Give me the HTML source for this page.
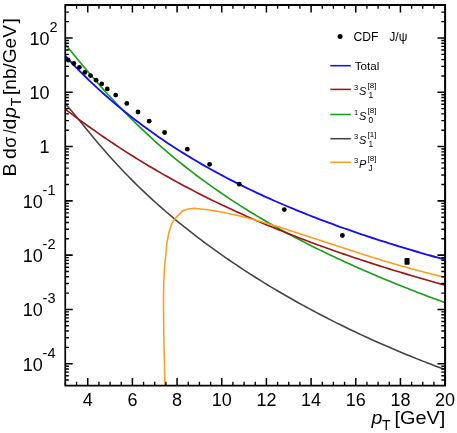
<!DOCTYPE html><html><head><meta charset="utf-8"><style>html,body{margin:0;padding:0;background:#fff}</style></head><body><svg width="457" height="433" viewBox="0 0 457 433" style="display:block;will-change:transform;font-family:'Liberation Sans',sans-serif">
<rect width="457" height="433" fill="#fff"/>
<defs><clipPath id="c"><rect x="65.3" y="5" width="379.7" height="380.2"/></clipPath></defs>
<g clip-path="url(#c)" fill="none" stroke-linejoin="round">
<path d="M65.30 103.79 L68.78 107.72 L72.27 111.81 L75.75 116.01 L79.23 120.26 L82.72 124.53 L86.20 128.80 L89.68 133.04 L93.17 137.24 L96.65 141.39 L100.13 145.49 L103.62 149.54 L107.10 153.51 L110.59 157.43 L114.07 161.28 L117.55 165.07 L121.04 168.79 L124.52 172.45 L128.00 176.05 L131.49 179.58 L134.97 183.06 L138.45 186.48 L141.94 189.85 L145.42 193.16 L148.90 196.42 L152.39 199.63 L155.87 202.78 L159.35 205.89 L162.84 208.96 L166.32 211.98 L169.80 214.95 L173.29 217.89 L176.77 220.78 L180.26 223.63 L183.74 226.45 L187.22 229.23 L190.71 231.97 L194.19 234.67 L197.67 237.34 L201.16 239.98 L204.64 242.59 L208.12 245.16 L211.61 247.70 L215.09 250.22 L218.57 252.70 L222.06 255.15 L225.54 257.58 L229.02 259.98 L232.51 262.35 L235.99 264.70 L239.47 267.02 L242.96 269.31 L246.44 271.58 L249.92 273.83 L253.41 276.05 L256.89 278.25 L260.38 280.42 L263.86 282.58 L267.34 284.71 L270.83 286.82 L274.31 288.90 L277.79 290.97 L281.28 293.01 L284.76 295.04 L288.24 297.04 L291.73 299.03 L295.21 300.99 L298.69 302.93 L302.18 304.86 L305.66 306.77 L309.14 308.65 L312.63 310.52 L316.11 312.37 L319.59 314.21 L323.08 316.02 L326.56 317.82 L330.04 319.60 L333.53 321.36 L337.01 323.11 L340.50 324.84 L343.98 326.55 L347.46 328.24 L350.95 329.92 L354.43 331.59 L357.91 333.23 L361.40 334.86 L364.88 336.48 L368.36 338.07 L371.85 339.66 L375.33 341.23 L378.81 342.78 L382.30 344.32 L385.78 345.84 L389.26 347.34 L392.75 348.84 L396.23 350.31 L399.71 351.78 L403.20 353.23 L406.68 354.66 L410.17 356.08 L413.65 357.49 L417.13 358.88 L420.62 360.25 L424.10 361.62 L427.58 362.97 L431.07 364.30 L434.55 365.63 L438.03 366.94 L441.52 368.23 L445.00 369.51" stroke="#454545" stroke-width="1.6"/>
<path d="M65.30 44.21 L68.78 48.50 L72.27 52.77 L75.75 57.01 L79.23 61.23 L82.72 65.42 L86.20 69.56 L89.68 73.67 L93.17 77.73 L96.65 81.74 L100.13 85.71 L103.62 89.62 L107.10 93.48 L110.59 97.29 L114.07 101.05 L117.55 104.75 L121.04 108.40 L124.52 111.99 L128.00 115.54 L131.49 119.03 L134.97 122.47 L138.45 125.85 L141.94 129.19 L145.42 132.47 L148.90 135.71 L152.39 138.89 L155.87 142.03 L159.35 145.12 L162.84 148.17 L166.32 151.17 L169.80 154.12 L173.29 157.03 L176.77 159.90 L180.26 162.73 L183.74 165.51 L187.22 168.26 L190.71 170.96 L194.19 173.63 L197.67 176.26 L201.16 178.85 L204.64 181.40 L208.12 183.93 L211.61 186.41 L215.09 188.86 L218.57 191.28 L222.06 193.67 L225.54 196.02 L229.02 198.35 L232.51 200.64 L235.99 202.91 L239.47 205.14 L242.96 207.35 L246.44 209.53 L249.92 211.68 L253.41 213.81 L256.89 215.91 L260.38 217.98 L263.86 220.03 L267.34 222.06 L270.83 224.06 L274.31 226.04 L277.79 228.00 L281.28 229.93 L284.76 231.84 L288.24 233.73 L291.73 235.60 L295.21 237.45 L298.69 239.28 L302.18 241.10 L305.66 242.89 L309.14 244.66 L312.63 246.41 L316.11 248.15 L319.59 249.87 L323.08 251.57 L326.56 253.26 L330.04 254.93 L333.53 256.58 L337.01 258.22 L340.50 259.84 L343.98 261.44 L347.46 263.04 L350.95 264.61 L354.43 266.18 L357.91 267.72 L361.40 269.26 L364.88 270.78 L368.36 272.29 L371.85 273.79 L375.33 275.27 L378.81 276.74 L382.30 278.20 L385.78 279.64 L389.26 281.08 L392.75 282.50 L396.23 283.92 L399.71 285.32 L403.20 286.71 L406.68 288.09 L410.17 289.46 L413.65 290.82 L417.13 292.17 L420.62 293.51 L424.10 294.84 L427.58 296.16 L431.07 297.47 L434.55 298.77 L438.03 300.07 L441.52 301.35 L445.00 302.63" stroke="#1a9e1a" stroke-width="1.65"/>
<path d="M65.30 109.12 L68.78 111.81 L72.27 114.46 L75.75 117.07 L79.23 119.65 L82.72 122.20 L86.20 124.73 L89.68 127.23 L93.17 129.70 L96.65 132.15 L100.13 134.57 L103.62 136.97 L107.10 139.34 L110.59 141.69 L114.07 144.02 L117.55 146.32 L121.04 148.60 L124.52 150.85 L128.00 153.08 L131.49 155.29 L134.97 157.47 L138.45 159.63 L141.94 161.77 L145.42 163.88 L148.90 165.97 L152.39 168.04 L155.87 170.08 L159.35 172.10 L162.84 174.10 L166.32 176.08 L169.80 178.03 L173.29 179.97 L176.77 181.88 L180.26 183.78 L183.74 185.65 L187.22 187.50 L190.71 189.33 L194.19 191.14 L197.67 192.94 L201.16 194.71 L204.64 196.47 L208.12 198.20 L211.61 199.92 L215.09 201.62 L218.57 203.30 L222.06 204.97 L225.54 206.62 L229.02 208.25 L232.51 209.86 L235.99 211.46 L239.47 213.04 L242.96 214.61 L246.44 216.16 L249.92 217.69 L253.41 219.21 L256.89 220.72 L260.38 222.21 L263.86 223.69 L267.34 225.15 L270.83 226.59 L274.31 228.03 L277.79 229.45 L281.28 230.86 L284.76 232.25 L288.24 233.63 L291.73 235.00 L295.21 236.35 L298.69 237.70 L302.18 239.03 L305.66 240.35 L309.14 241.66 L312.63 242.95 L316.11 244.24 L319.59 245.51 L323.08 246.77 L326.56 248.02 L330.04 249.26 L333.53 250.49 L337.01 251.71 L340.50 252.92 L343.98 254.12 L347.46 255.31 L350.95 256.49 L354.43 257.66 L357.91 258.82 L361.40 259.97 L364.88 261.11 L368.36 262.25 L371.85 263.37 L375.33 264.48 L378.81 265.59 L382.30 266.69 L385.78 267.78 L389.26 268.86 L392.75 269.93 L396.23 270.99 L399.71 272.05 L403.20 273.10 L406.68 274.14 L410.17 275.17 L413.65 276.20 L417.13 277.22 L420.62 278.23 L424.10 279.23 L427.58 280.23 L431.07 281.21 L434.55 282.20 L438.03 283.17 L441.52 284.14 L445.00 285.10" stroke="#a01414" stroke-width="1.65"/>
<path d="M164.90 386.00 L164.50 365.00 L163.90 340.00 L163.60 320.00 L163.50 300.00 L163.80 282.00 L164.40 270.00 L164.90 263.00 L165.80 255.00 L166.80 243.50 L168.90 232.40 L171.60 224.10 L175.10 218.60 L179.20 214.40 L182.70 210.80 L186.90 209.20 L192.40 208.60 L194.00 208.35 L196.30 208.54 L198.61 208.75 L200.91 208.99 L203.21 209.25 L205.51 209.53 L207.82 209.84 L210.12 210.16 L212.42 210.51 L214.72 210.88 L217.03 211.27 L219.33 211.67 L221.63 212.10 L223.94 212.54 L226.24 213.00 L228.54 213.47 L230.84 213.96 L233.15 214.47 L235.45 214.99 L237.75 215.53 L240.06 216.08 L242.36 216.64 L244.66 217.22 L246.96 217.81 L249.27 218.41 L251.57 219.02 L253.87 219.64 L256.17 220.27 L258.48 220.92 L260.78 221.57 L263.08 222.23 L265.39 222.90 L267.69 223.57 L269.99 224.26 L272.29 224.95 L274.60 225.65 L276.90 226.35 L279.20 227.06 L281.50 227.78 L283.81 228.50 L286.11 229.23 L288.41 229.96 L290.72 230.69 L293.02 231.43 L295.32 232.17 L297.62 232.92 L299.93 233.67 L302.23 234.42 L304.53 235.17 L306.83 235.93 L309.14 236.69 L311.44 237.45 L313.74 238.21 L316.05 238.97 L318.35 239.73 L320.65 240.49 L322.95 241.25 L325.26 242.02 L327.56 242.78 L329.86 243.54 L332.17 244.30 L334.47 245.06 L336.77 245.82 L339.07 246.58 L341.38 247.33 L343.68 248.08 L345.98 248.84 L348.28 249.59 L350.59 250.33 L352.89 251.08 L355.19 251.82 L357.50 252.56 L359.80 253.30 L362.10 254.03 L364.40 254.76 L366.71 255.49 L369.01 256.21 L371.31 256.93 L373.61 257.64 L375.92 258.36 L378.22 259.06 L380.52 259.77 L382.83 260.47 L385.13 261.16 L387.43 261.85 L389.73 262.53 L392.04 263.21 L394.34 263.89 L396.64 264.56 L398.94 265.22 L401.25 265.88 L403.55 266.54 L405.85 267.19 L408.16 267.83 L410.46 268.47 L412.76 269.10 L415.06 269.72 L417.37 270.34 L419.67 270.96 L421.97 271.57 L424.28 272.17 L426.58 272.76 L428.88 273.35 L431.18 273.94 L433.49 274.52 L435.79 275.09 L438.09 275.65 L440.39 276.21 L442.70 276.76 L445.00 277.30" stroke="#ff9d1e" stroke-width="1.55"/>
<path d="M65.30 56.00 L68.78 59.78 L72.27 63.48 L75.75 67.09 L79.23 70.64 L82.72 74.12 L86.20 77.53 L89.68 80.89 L93.17 84.18 L96.65 87.42 L100.13 90.60 L103.62 93.73 L107.10 96.81 L110.59 99.84 L114.07 102.82 L117.55 105.74 L121.04 108.62 L124.52 111.46 L128.00 114.25 L131.49 116.99 L134.97 119.69 L138.45 122.35 L141.94 124.96 L145.42 127.54 L148.90 130.07 L152.39 132.57 L155.87 135.02 L159.35 137.44 L162.84 139.83 L166.32 142.17 L169.80 144.49 L173.29 146.76 L176.77 149.01 L180.26 151.22 L183.74 153.40 L187.22 155.54 L190.71 157.66 L194.19 159.75 L197.67 161.80 L201.16 163.83 L204.64 165.83 L208.12 167.80 L211.61 169.75 L215.09 171.67 L218.57 173.56 L222.06 175.43 L225.54 177.27 L229.02 179.09 L232.51 180.88 L235.99 182.66 L239.47 184.40 L242.96 186.13 L246.44 187.84 L249.92 189.52 L253.41 191.18 L256.89 192.82 L260.38 194.44 L263.86 196.05 L267.34 197.63 L270.83 199.19 L274.31 200.74 L277.79 202.26 L281.28 203.77 L284.76 205.26 L288.24 206.74 L291.73 208.20 L295.21 209.64 L298.69 211.06 L302.18 212.47 L305.66 213.87 L309.14 215.24 L312.63 216.61 L316.11 217.96 L319.59 219.29 L323.08 220.61 L326.56 221.92 L330.04 223.21 L333.53 224.49 L337.01 225.76 L340.50 227.01 L343.98 228.25 L347.46 229.48 L350.95 230.70 L354.43 231.90 L357.91 233.09 L361.40 234.28 L364.88 235.45 L368.36 236.60 L371.85 237.75 L375.33 238.89 L378.81 240.02 L382.30 241.13 L385.78 242.24 L389.26 243.33 L392.75 244.42 L396.23 245.50 L399.71 246.56 L403.20 247.62 L406.68 248.67 L410.17 249.71 L413.65 250.74 L417.13 251.76 L420.62 252.78 L424.10 253.78 L427.58 254.78 L431.07 255.76 L434.55 256.75 L438.03 257.72 L441.52 258.68 L445.00 259.64" stroke="#1212f5" stroke-width="1.85"/>
</g>
<g fill="#000">
<circle cx="68.2" cy="60.0" r="2.4"/>
<circle cx="73.8" cy="63.5" r="2.4"/>
<circle cx="79.4" cy="67.3" r="2.4"/>
<circle cx="84.9" cy="72.4" r="2.4"/>
<circle cx="90.5" cy="75.6" r="2.4"/>
<circle cx="96.1" cy="80.2" r="2.4"/>
<circle cx="101.7" cy="83.9" r="2.4"/>
<circle cx="107.3" cy="88.9" r="2.4"/>
<circle cx="115.7" cy="95.1" r="2.4"/>
<circle cx="126.8" cy="103.4" r="2.4"/>
<circle cx="138.0" cy="112.0" r="2.4"/>
<circle cx="149.2" cy="121.2" r="2.4"/>
<circle cx="164.6" cy="132.5" r="2.4"/>
<circle cx="187.3" cy="149.2" r="2.4"/>
<circle cx="209.6" cy="164.3" r="2.4"/>
<circle cx="239.3" cy="184.2" r="2.4"/>
<circle cx="284.3" cy="209.6" r="2.4"/>
<circle cx="342.4" cy="235.5" r="2.4"/>
<rect x="404.5" y="258.1" width="5.1" height="6.6" rx="0.9"/>
</g>
<path fill="#000" fill-rule="evenodd" d="M64.4 4.05H446.1V386.6H64.4Z M66.1 5.9V384.7H444.1V5.9Z"/>
<g stroke="#000" fill="none"><path d="M65.40 385.3v-3.5 M65.40 5.2v3.5" stroke-width="1.35"/><path d="M76.57 385.3v-3.5 M76.57 5.2v3.5" stroke-width="1.35"/><path d="M87.74 385.3v-7.2 M87.74 5.2v7.2" stroke-width="1.5"/><path d="M98.90 385.3v-3.5 M98.90 5.2v3.5" stroke-width="1.35"/><path d="M110.07 385.3v-3.5 M110.07 5.2v3.5" stroke-width="1.35"/><path d="M121.24 385.3v-3.5 M121.24 5.2v3.5" stroke-width="1.35"/><path d="M132.41 385.3v-7.2 M132.41 5.2v7.2" stroke-width="1.5"/><path d="M143.57 385.3v-3.5 M143.57 5.2v3.5" stroke-width="1.35"/><path d="M154.74 385.3v-3.5 M154.74 5.2v3.5" stroke-width="1.35"/><path d="M165.91 385.3v-3.5 M165.91 5.2v3.5" stroke-width="1.35"/><path d="M177.08 385.3v-7.2 M177.08 5.2v7.2" stroke-width="1.5"/><path d="M188.24 385.3v-3.5 M188.24 5.2v3.5" stroke-width="1.35"/><path d="M199.41 385.3v-3.5 M199.41 5.2v3.5" stroke-width="1.35"/><path d="M210.58 385.3v-3.5 M210.58 5.2v3.5" stroke-width="1.35"/><path d="M221.75 385.3v-7.2 M221.75 5.2v7.2" stroke-width="1.5"/><path d="M232.91 385.3v-3.5 M232.91 5.2v3.5" stroke-width="1.35"/><path d="M244.08 385.3v-3.5 M244.08 5.2v3.5" stroke-width="1.35"/><path d="M255.25 385.3v-3.5 M255.25 5.2v3.5" stroke-width="1.35"/><path d="M266.42 385.3v-7.2 M266.42 5.2v7.2" stroke-width="1.5"/><path d="M277.59 385.3v-3.5 M277.59 5.2v3.5" stroke-width="1.35"/><path d="M288.75 385.3v-3.5 M288.75 5.2v3.5" stroke-width="1.35"/><path d="M299.92 385.3v-3.5 M299.92 5.2v3.5" stroke-width="1.35"/><path d="M311.09 385.3v-7.2 M311.09 5.2v7.2" stroke-width="1.5"/><path d="M322.26 385.3v-3.5 M322.26 5.2v3.5" stroke-width="1.35"/><path d="M333.42 385.3v-3.5 M333.42 5.2v3.5" stroke-width="1.35"/><path d="M344.59 385.3v-3.5 M344.59 5.2v3.5" stroke-width="1.35"/><path d="M355.76 385.3v-7.2 M355.76 5.2v7.2" stroke-width="1.5"/><path d="M366.93 385.3v-3.5 M366.93 5.2v3.5" stroke-width="1.35"/><path d="M378.09 385.3v-3.5 M378.09 5.2v3.5" stroke-width="1.35"/><path d="M389.26 385.3v-3.5 M389.26 5.2v3.5" stroke-width="1.35"/><path d="M400.43 385.3v-7.2 M400.43 5.2v7.2" stroke-width="1.5"/><path d="M411.60 385.3v-3.5 M411.60 5.2v3.5" stroke-width="1.35"/><path d="M422.76 385.3v-3.5 M422.76 5.2v3.5" stroke-width="1.35"/><path d="M433.93 385.3v-3.5 M433.93 5.2v3.5" stroke-width="1.35"/><path d="M445.10 385.3v-7.2 M445.10 5.2v7.2" stroke-width="1.5"/><path d="M65.3 380.07h3.6 M444.9 380.07h-3.6" stroke-width="1.4"/><path d="M65.3 375.77h3.6 M444.9 375.77h-3.6" stroke-width="1.4"/><path d="M65.3 372.14h3.6 M444.9 372.14h-3.6" stroke-width="1.4"/><path d="M65.3 368.99h3.6 M444.9 368.99h-3.6" stroke-width="1.4"/><path d="M65.3 366.21h3.6 M444.9 366.21h-3.6" stroke-width="1.4"/><path d="M65.3 363.73h7.4 M444.9 363.73h-7.4" stroke-width="1.6"/><path d="M65.3 347.38h3.6 M444.9 347.38h-3.6" stroke-width="1.4"/><path d="M65.3 337.82h3.6 M444.9 337.82h-3.6" stroke-width="1.4"/><path d="M65.3 331.04h3.6 M444.9 331.04h-3.6" stroke-width="1.4"/><path d="M65.3 325.78h3.6 M444.9 325.78h-3.6" stroke-width="1.4"/><path d="M65.3 321.48h3.6 M444.9 321.48h-3.6" stroke-width="1.4"/><path d="M65.3 317.85h3.6 M444.9 317.85h-3.6" stroke-width="1.4"/><path d="M65.3 314.70h3.6 M444.9 314.70h-3.6" stroke-width="1.4"/><path d="M65.3 311.92h3.6 M444.9 311.92h-3.6" stroke-width="1.4"/><path d="M65.3 309.44h7.4 M444.9 309.44h-7.4" stroke-width="1.6"/><path d="M65.3 293.09h3.6 M444.9 293.09h-3.6" stroke-width="1.4"/><path d="M65.3 283.53h3.6 M444.9 283.53h-3.6" stroke-width="1.4"/><path d="M65.3 276.75h3.6 M444.9 276.75h-3.6" stroke-width="1.4"/><path d="M65.3 271.49h3.6 M444.9 271.49h-3.6" stroke-width="1.4"/><path d="M65.3 267.19h3.6 M444.9 267.19h-3.6" stroke-width="1.4"/><path d="M65.3 263.56h3.6 M444.9 263.56h-3.6" stroke-width="1.4"/><path d="M65.3 260.41h3.6 M444.9 260.41h-3.6" stroke-width="1.4"/><path d="M65.3 257.63h3.6 M444.9 257.63h-3.6" stroke-width="1.4"/><path d="M65.3 255.15h7.4 M444.9 255.15h-7.4" stroke-width="1.6"/><path d="M65.3 238.80h3.6 M444.9 238.80h-3.6" stroke-width="1.4"/><path d="M65.3 229.24h3.6 M444.9 229.24h-3.6" stroke-width="1.4"/><path d="M65.3 222.46h3.6 M444.9 222.46h-3.6" stroke-width="1.4"/><path d="M65.3 217.20h3.6 M444.9 217.20h-3.6" stroke-width="1.4"/><path d="M65.3 212.90h3.6 M444.9 212.90h-3.6" stroke-width="1.4"/><path d="M65.3 209.27h3.6 M444.9 209.27h-3.6" stroke-width="1.4"/><path d="M65.3 206.12h3.6 M444.9 206.12h-3.6" stroke-width="1.4"/><path d="M65.3 203.34h3.6 M444.9 203.34h-3.6" stroke-width="1.4"/><path d="M65.3 200.86h7.4 M444.9 200.86h-7.4" stroke-width="1.6"/><path d="M65.3 184.51h3.6 M444.9 184.51h-3.6" stroke-width="1.4"/><path d="M65.3 174.95h3.6 M444.9 174.95h-3.6" stroke-width="1.4"/><path d="M65.3 168.17h3.6 M444.9 168.17h-3.6" stroke-width="1.4"/><path d="M65.3 162.91h3.6 M444.9 162.91h-3.6" stroke-width="1.4"/><path d="M65.3 158.61h3.6 M444.9 158.61h-3.6" stroke-width="1.4"/><path d="M65.3 154.98h3.6 M444.9 154.98h-3.6" stroke-width="1.4"/><path d="M65.3 151.83h3.6 M444.9 151.83h-3.6" stroke-width="1.4"/><path d="M65.3 149.05h3.6 M444.9 149.05h-3.6" stroke-width="1.4"/><path d="M65.3 146.57h7.4 M444.9 146.57h-7.4" stroke-width="1.6"/><path d="M65.3 130.22h3.6 M444.9 130.22h-3.6" stroke-width="1.4"/><path d="M65.3 120.66h3.6 M444.9 120.66h-3.6" stroke-width="1.4"/><path d="M65.3 113.88h3.6 M444.9 113.88h-3.6" stroke-width="1.4"/><path d="M65.3 108.62h3.6 M444.9 108.62h-3.6" stroke-width="1.4"/><path d="M65.3 104.32h3.6 M444.9 104.32h-3.6" stroke-width="1.4"/><path d="M65.3 100.69h3.6 M444.9 100.69h-3.6" stroke-width="1.4"/><path d="M65.3 97.54h3.6 M444.9 97.54h-3.6" stroke-width="1.4"/><path d="M65.3 94.76h3.6 M444.9 94.76h-3.6" stroke-width="1.4"/><path d="M65.3 92.28h7.4 M444.9 92.28h-7.4" stroke-width="1.6"/><path d="M65.3 75.93h3.6 M444.9 75.93h-3.6" stroke-width="1.4"/><path d="M65.3 66.37h3.6 M444.9 66.37h-3.6" stroke-width="1.4"/><path d="M65.3 59.59h3.6 M444.9 59.59h-3.6" stroke-width="1.4"/><path d="M65.3 54.33h3.6 M444.9 54.33h-3.6" stroke-width="1.4"/><path d="M65.3 50.03h3.6 M444.9 50.03h-3.6" stroke-width="1.4"/><path d="M65.3 46.40h3.6 M444.9 46.40h-3.6" stroke-width="1.4"/><path d="M65.3 43.25h3.6 M444.9 43.25h-3.6" stroke-width="1.4"/><path d="M65.3 40.47h3.6 M444.9 40.47h-3.6" stroke-width="1.4"/><path d="M65.3 37.99h7.4 M444.9 37.99h-7.4" stroke-width="1.6"/><path d="M65.3 21.64h3.6 M444.9 21.64h-3.6" stroke-width="1.4"/><path d="M65.3 12.08h3.6 M444.9 12.08h-3.6" stroke-width="1.4"/></g>
<g font-size="18" text-anchor="middle" fill="#000">
<text x="87.7" y="405.6">4</text>
<text x="132.4" y="405.6">6</text>
<text x="177.1" y="405.6">8</text>
<text x="221.7" y="405.6">10</text>
<text x="266.4" y="405.6">12</text>
<text x="311.1" y="405.6">14</text>
<text x="355.8" y="405.6">16</text>
<text x="400.4" y="405.6">18</text>
<text x="445.1" y="405.6">20</text>
</g>
<g fill="#000">
<text x="42.7" y="370.5" font-size="18" text-anchor="end">10</text>
<text x="42.6" y="357.7" font-size="14.5" text-anchor="start">-4</text>
<text x="42.7" y="316.2" font-size="18" text-anchor="end">10</text>
<text x="42.6" y="303.4" font-size="14.5" text-anchor="start">-3</text>
<text x="42.7" y="261.9" font-size="18" text-anchor="end">10</text>
<text x="42.6" y="249.1" font-size="14.5" text-anchor="start">-2</text>
<text x="42.7" y="207.7" font-size="18" text-anchor="end">10</text>
<text x="42.6" y="194.9" font-size="14.5" text-anchor="start">-1</text>
<text x="49.6" y="153.4" font-size="18" text-anchor="end">1</text>
<text x="49.6" y="99.1" font-size="18" text-anchor="end">10</text>
<text x="49.6" y="44.8" font-size="18" text-anchor="end">10</text>
<text x="49.6" y="32.0" font-size="14.5" text-anchor="start">2</text>
</g>
<text transform="translate(371.50,424.20) scale(1.085,1)" font-size="18" font-style="italic">p</text>
<text transform="translate(382.00,429.60) scale(1.0,1)" font-size="14">T</text>
<text transform="translate(394.40,424.20) scale(1.105,1)" font-size="18">[GeV]</text>
<g transform="translate(15.9,175.5) rotate(-90)">
<text transform="translate(-1.00,0.00) scale(1.085,1)" font-size="18">B</text>
<text transform="translate(16.60,0.00) scale(1.085,1)" font-size="18">d</text>
<text transform="translate(27.70,0.00) scale(1.0,1)" font-size="18">σ</text>
<text transform="translate(42.00,0.00) scale(0.82,1)" font-size="18">/</text>
<text transform="translate(46.00,0.00) scale(1.085,1)" font-size="18">d</text>
<text transform="translate(57.50,0.00) scale(1.085,1)" font-size="18" font-style="italic">p</text>
<text transform="translate(69.30,5.40) scale(1.0,1)" font-size="14">T</text>
<text transform="translate(80.50,0.00) scale(1.06,1)" font-size="18">[nb/GeV</text>
<text transform="translate(152.00,0.00) scale(1.085,1)" font-size="18">]</text>
</g>
<circle cx="340.1" cy="36.4" r="2.5"/>
<text x="353.4" y="40.8" font-size="12.2">CDF</text><text x="389.2" y="40.8" font-size="12.2">J/ψ</text>
<path d="M330.3 65.7H350.8" stroke="#1212f5" stroke-width="1.55"/>
<path d="M330.3 89.4H350.8" stroke="#a01414" stroke-width="1.55"/>
<path d="M330.3 114.5H350.8" stroke="#1a9e1a" stroke-width="1.55"/>
<path d="M330.3 138.7H350.8" stroke="#454545" stroke-width="1.55"/>
<path d="M330.3 162.3H350.8" stroke="#ff9d1e" stroke-width="1.55"/>
<text x="354.8" y="69.9" font-size="11.6">Total</text>
<text x="354.1" y="89.9" font-size="7.5">3</text><text x="358.9" y="95.0" font-size="11" font-style="italic">S</text><text x="367.6" y="88.1" font-size="8">[8]</text><text x="368.5" y="97.7" font-size="8.3">1</text>
<text x="354.1" y="115.0" font-size="7.5">1</text><text x="358.9" y="120.1" font-size="11" font-style="italic">S</text><text x="367.6" y="113.2" font-size="8">[8]</text><text x="368.5" y="122.8" font-size="8.3">0</text>
<text x="354.1" y="139.0" font-size="7.5">3</text><text x="358.9" y="144.1" font-size="11" font-style="italic">S</text><text x="367.6" y="137.2" font-size="8">[1]</text><text x="368.5" y="146.8" font-size="8.3">1</text>
<text x="354.1" y="162.9" font-size="7.5">3</text><text x="358.9" y="168.0" font-size="11" font-style="italic">P</text><text x="367.6" y="161.1" font-size="8">[8]</text><text x="368.5" y="170.7" font-size="8.3">J</text>
</svg></body></html>
